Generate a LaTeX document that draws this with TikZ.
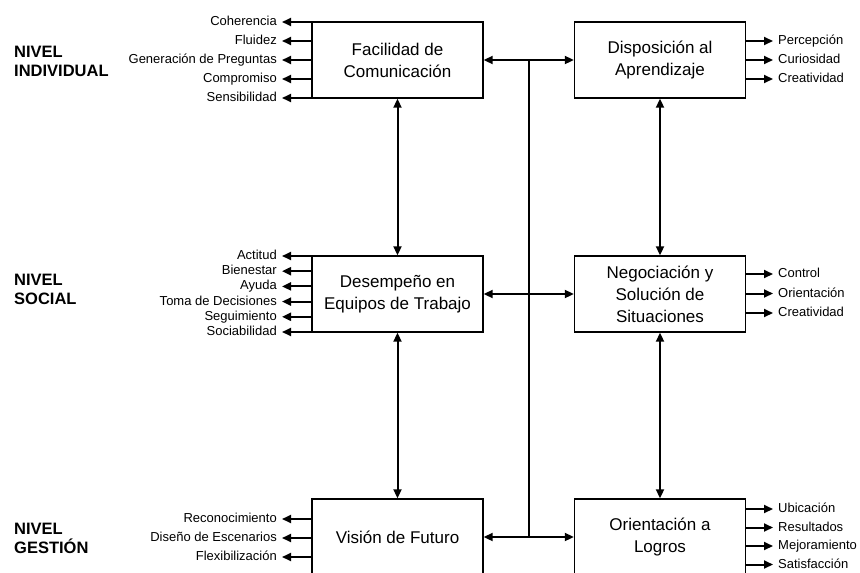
\documentclass[tikz,border=0pt]{standalone}
\usepackage{fontspec}
\setmainfont{Liberation Sans}
\usetikzlibrary{arrows.meta,calc}

\begin{document}
\begin{tikzpicture}[x=1pt,y=-1pt,>={Triangle[length=9pt,width=8pt]},
  box/.style={draw,line width=1.4pt,minimum width=171pt,minimum height=76pt,
              align=center,font=\fontsize{17}{22}\selectfont},
  attr/.style={inner xsep=5pt,inner ysep=0pt,text height=9.5pt,text depth=2.5pt,
               font=\fontsize{13}{15}\selectfont},
  nivel/.style={anchor=west,align=left,inner sep=0pt,
                font=\fontsize{16.5}{19}\selectfont\bfseries},
  link/.style={line width=2pt,->},
  dlink/.style={line width=2pt,<->}]
  \clip (0,0) rectangle (860,573);

  \node[nivel] (nind) at (14,61) {NIVEL\\INDIVIDUAL};
  \node[nivel] (nsoc) at (14,289) {NIVEL\\SOCIAL};
  \node[nivel] (nges) at (14,538) {NIVEL\\GESTIÓN};

  \node[box] (fac) at (397.5,60) {Facilidad de\\Comunicación};
  \node[box] (dis) at (660,60) {Disposición al\\Aprendizaje};
  \node[box] (des) at (397.5,294) {Desempeño en\\Equipos de Trabajo};
  \node[box] (neg) at (660,294) {Negociación y\\Solución de\\Situaciones};
  \node[box] (vis) at (397.5,537) {Visión de Futuro};
  \node[box] (ori) at (660,537) {Orientación a\\Logros};

  \foreach \t [count=\k] in {Coherencia,Fluidez,Generación de Preguntas,
                             Compromiso,Sensibilidad}{
    \node[attr,anchor=east] (fa\k) at (282,{22+(\k-1)*19}) {\t};
    \draw[link] (fac.west |- fa\k.east) -- (fa\k.east);
  }
  \foreach \t [count=\k] in {Actitud,Bienestar,Ayuda,Toma de Decisiones,
                             Seguimiento,Sociabilidad}{
    \node[attr,anchor=east] (de\k) at (282,{256+(\k-1)*15.2}) {\t};
    \draw[link] (des.west |- de\k.east) -- (de\k.east);
  }
  \foreach \t [count=\k] in {Reconocimiento,Diseño de Escenarios,Flexibilización}{
    \node[attr,anchor=east] (vi\k) at (282,{519+(\k-1)*19}) {\t};
    \draw[link] (vis.west |- vi\k.east) -- (vi\k.east);
  }
  \foreach \t [count=\k] in {Percepción,Curiosidad,Creatividad}{
    \node[attr,anchor=west] (di\k) at (773,{41+(\k-1)*19}) {\t};
    \draw[link] (dis.east |- di\k.west) -- (di\k.west);
  }
  \foreach \t [count=\k] in {Control,Orientación,Creatividad}{
    \node[attr,anchor=west] (ne\k) at (773,{274+(\k-1)*19.5}) {\t};
    \draw[link] (neg.east |- ne\k.west) -- (ne\k.west);
  }
  \foreach \t [count=\k] in {Ubicación,Resultados,Mejoramiento,Satisfacción}{
    \node[attr,anchor=west] (or\k) at (773,{509+(\k-1)*18.5}) {\t};
    \draw[link] (ori.east |- or\k.west) -- (or\k.west);
  }

  \draw[dlink] (fac) -- (des);
  \draw[dlink] (des) -- (vis);
  \draw[dlink] (dis) -- (neg);
  \draw[dlink] (neg) -- (ori);
  \draw[dlink] (fac) -- (dis);
  \draw[dlink] (des) -- (neg);
  \draw[dlink] (vis) -- (ori);
  \coordinate (bustop) at ($(fac.east)!.5!(dis.west)$);
  \coordinate (busbot) at ($(vis.east)!.5!(ori.west)$);
  \draw[line width=2pt] (bustop) -- (busbot);
\end{tikzpicture}
\end{document}
